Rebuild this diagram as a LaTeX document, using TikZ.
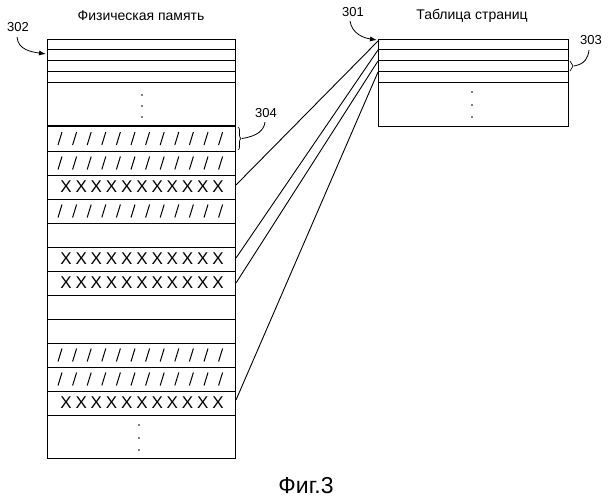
\documentclass[tikz,border=0pt]{standalone}
\usepackage{fontspec}
\setmainfont{Liberation Sans}
\usetikzlibrary{arrows.meta,decorations.pathreplacing}
\begin{document}
\begin{tikzpicture}[x=1pt,y=-1pt,line width=0.9pt,
  lbl/.style={font=\fontsize{14}{16}\selectfont,inner sep=0pt},
  num/.style={font=\fontsize{13}{15}\selectfont,inner sep=0pt},
  xch/.style={font=\fontsize{17}{19}\selectfont,inner sep=0pt},
  dotc/.style={fill=black,radius=0.9},
  brc/.style={decorate,decoration={brace,amplitude=3pt},line width=0.7pt},
  lead/.style={line width=0.8pt},
  arr/.style={line width=0.8pt,-{Latex[length=7pt,width=5pt]}}]
\useasboundingbox (0,0) rectangle (612,500);
% memory
\draw (47,39) rectangle (235,458);
\foreach \y in {49,60,71,82,151,175,199,223,247,271,295,319,343,367,391,415} \draw (47,\y)--(235,\y);
\draw[line width=1.6pt] (47,126)--(235,126);
\foreach \y in {95,106,117} \fill[dotc] (142,\y) circle;
\foreach \y in {425,438,450} \fill[dotc] (139,\y) circle;
\foreach \yc in {138.5,163,211,355,379}
  \foreach \i in {0,...,11} \draw[line width=1pt] ({60+\i*14.6-2},\yc+6.5)--({60+\i*14.6+2},\yc-6.5);
\foreach \yc in {187,259,283,403}
  \foreach \i in {0,...,10} \node[xch] at ({66+\i*15.2},\yc) {X};
% table
\draw (378,39) rectangle (568,126);
\foreach \y in {49,60,71,82} \draw (378,\y)--(568,\y);
\foreach \y in {92,105,117} \fill[dotc] (472,\y) circle;
% connectors
\coordinate (m1) at (236,185); \coordinate (t1) at (378,41);
\coordinate (m2) at (236,258); \coordinate (t2) at (378,50);
\coordinate (m3) at (236,283); \coordinate (t3) at (378,61);
\coordinate (m4) at (236,400); \coordinate (t4) at (378,72);
\draw (m1)--(t1); \draw (m2)--(t2); \draw (m3)--(t3); \draw (m4)--(t4);
% titles
\node[lbl] (tm) at (141,16) {Физическая память};
\node[lbl] (tt) at (472,16) {Таблица страниц};
\node[font=\fontsize{23}{26}\selectfont,inner sep=0pt] (fig) at (306,486) {Фиг.3};
% labels
\node[num] (l302) at (18,27) {302};
\draw[arr] (17,37) .. controls (18,50) and (32,52) .. (46,54);
\node[num] (l301) at (353,12) {301};
\draw[arr] (350,21) .. controls (352,34) and (364,38) .. (377,40);
\node[num] (l304) at (266,113) {304};
\draw[brc] (238,127) -- (238,150);
\draw[lead] (242,138.5) .. controls (258,136) and (264,130) .. (265,122);
\node[num] (l303) at (591,40) {303};
\draw[brc] (570,61) -- (570,71);
\draw[lead] (574,66) .. controls (585,64) and (588,58) .. (589,50);
\end{tikzpicture}
\end{document}
